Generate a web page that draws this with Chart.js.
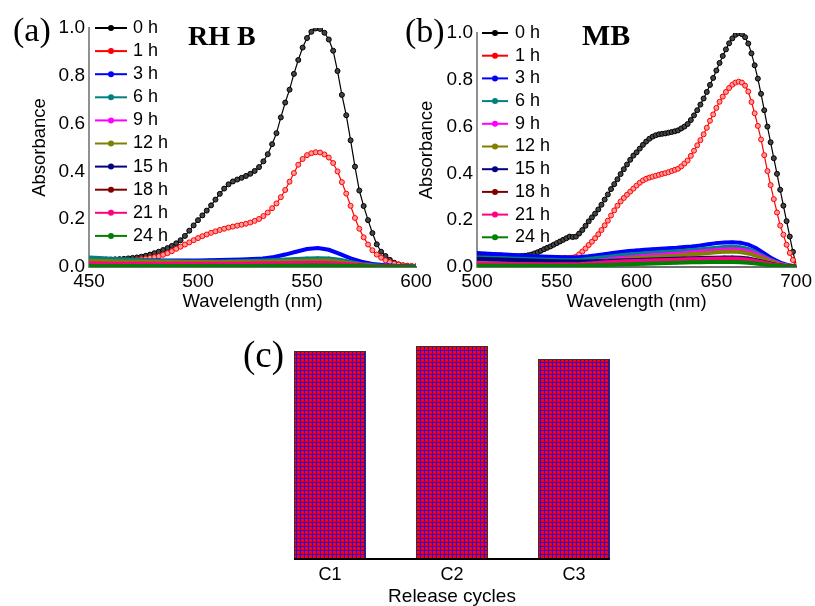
<!DOCTYPE html>
<html>
<head>
<meta charset="utf-8">
<script src="https://cdn.jsdelivr.net/npm/chart.js@4.4.1/dist/chart.umd.min.js"></script>
<style>
  body { margin: 0; background: #fff; }
  #fig { position: relative; width: 815px; height: 606px; overflow: hidden; background: #fff; }
  canvas { position: absolute; }
  .lbl { position: absolute; font-family: "Liberation Serif", "Times New Roman", serif; color: #000; white-space: nowrap; }
</style>
</head>
<body>
<div id="fig">
  <canvas id="ca" width="445" height="320" style="left:0;top:0;width:445px;height:320px"></canvas>
  <canvas id="cb" width="415" height="320" style="left:400px;top:0;width:415px;height:320px"></canvas>
  <canvas id="cc" width="420" height="276" style="left:240px;top:330px;width:420px;height:276px"></canvas>
  <div class="lbl" style="left:13px;top:13px;font-size:34px;line-height:34px">(a)</div>
  <div class="lbl" style="left:405px;top:14px;font-size:34px;line-height:34px">(b)</div>
  <div class="lbl" style="left:243px;top:336px;font-size:37px;line-height:37px">(c)</div>
  <div class="lbl" style="left:188px;top:22px;font-size:28px;line-height:28px;font-weight:bold">RH B</div>
  <div class="lbl" style="left:582px;top:20px;font-size:30px;line-height:30px;font-weight:bold">MB</div>
</div>
<script>
// Series labels and colours (same for both spectra panels)
const HOURS  = ['0 h', '1 h', '3 h', '6 h', '9 h', '12 h', '15 h', '18 h', '21 h', '24 h'];
const COLORS = ['#000000', '#ff0000', '#0000ff', '#008080', '#ff00ff',
                '#808000', '#000080', '#800000', '#ff0080', '#008000'];

// ---- Panel (a): RH B, wavelength grids ----
const WL_A2 = [450,452,454,456,458,460,462,464,466,468,
               470,472,474,476,478,480,482,484,486,488,
               490,492,494,496,498,500,502,504,506,508,
               510,512,514,516,518,520,522,524,526,528,
               530,532,534,536,538,540,542,544,546,548,
               550,552,554,556,558,560,562,564,566,568,
               570,572,574,576,578,580,582,584,586,588,
               590,592,594,596,598,600];
const WL_A5 = [450,455,460,465,470,475,480,485,490,495,500,505,510,515,520,
               525,530,535,540,545,550,555,560,565,570,575,580,585,590,595,600];

const A_0H = [.030,.030,.030,.030,.031,.031,.032,.033,.034,.036,
              .038,.040,.043,.047,.052,.058,.064,.071,.079,.088,
              .099,.112,.130,.152,.174,.196,.216,.236,.258,.282,
              .306,.328,.346,.358,.366,.373,.381,.390,.402,.418,
              .442,.472,.514,.560,.626,.688,.742,.808,.866,.918,
              .958,.984,.998,.996,.980,.952,.905,.820,.720,.635,
              .530,.420,.320,.255,.196,.142,.095,.064,.046,.030,
              .018,.011,.007,.005,.003,.002];
const A_1H = [.020,.020,.020,.020,.021,.021,.022,.023,.024,.025,
              .027,.029,.032,.035,.038,.041,.045,.051,.058,.066,
              .076,.085,.094,.103,.112,.121,.129,.136,.143,.149,
              .155,.160,.165,.169,.173,.177,.181,.186,.193,.201,
              .213,.228,.246,.266,.292,.322,.357,.393,.428,.452,
              .468,.476,.480,.479,.471,.458,.435,.400,.355,.307,
              .256,.205,.160,.124,.094,.070,.052,.039,.028,.020,
              .014,.010,.007,.005,.004,.003];
const A_3H  = [.035,.033,.031,.030,.029,.028,.027,.027,.027,.027,.027,.028,.029,.030,.031,.033,
               .036,.042,.052,.064,.075,.079,.072,.055,.036,.022,.013,.008,.005,.003,.002];
const A_6H  = [.040,.038,.035,.032,.030,.028,.026,.025,.024,.023,.023,.023,.023,.024,.025,.026,
               .027,.029,.031,.034,.036,.037,.036,.030,.021,.013,.008,.005,.003,.002,.001];
const A_9H  = [.013,.013,.012,.012,.012,.012,.012,.012,.012,.012,.012,.012,.012,.012,.013,.013,
               .014,.015,.016,.018,.020,.022,.023,.020,.014,.009,.005,.003,.002,.001,.001];
const A_12H = [.026,.025,.024,.023,.022,.022,.021,.021,.021,.021,.021,.021,.021,.021,.021,.022,
               .022,.023,.024,.025,.026,.027,.027,.022,.015,.009,.005,.003,.002,.001,.001];
const A_15H = [.008,.008,.008,.008,.008,.008,.008,.008,.008,.008,.008,.008,.008,.008,.008,.009,
               .009,.010,.010,.011,.012,.012,.012,.010,.007,.005,.003,.002,.001,.001,.000];
const A_18H = [.010,.010,.010,.010,.010,.010,.010,.010,.010,.010,.010,.010,.010,.010,.010,.011,
               .011,.012,.012,.013,.014,.014,.013,.011,.008,.005,.003,.002,.001,.001,.000];
const A_21H = [.015,.015,.014,.014,.014,.014,.014,.014,.014,.014,.014,.014,.014,.014,.014,.015,
               .015,.016,.016,.017,.018,.018,.017,.014,.010,.006,.004,.002,.001,.001,.000];
const A_24H = [.004,.004,.004,.004,.004,.004,.004,.004,.004,.004,.004,.004,.004,.004,.004,.004,
               .004,.005,.005,.005,.006,.006,.006,.005,.004,.003,.002,.001,.001,.000,.000];

// ---- Panel (b): MB, wavelength grids ----
const WL_B2 = [500,502,504,506,508,510,512,514,516,518,
               520,522,524,526,528,530,532,534,536,538,
               540,542,544,546,548,550,552,554,556,558,
               560,562,564,566,568,570,572,574,576,578,
               580,582,584,586,588,590,592,594,596,598,
               600,602,604,606,608,610,612,614,616,618,
               620,622,624,626,628,630,632,634,636,638,
               640,642,644,646,648,650,652,654,656,658,
               660,662,664,666,668,670,672,674,676,678,
               680,682,684,686,688,690,692,694,696,698,
               700];
const WL_B5 = [500,505,510,515,520,525,530,535,540,545,550,555,560,565,570,575,580,585,590,595,
               600,605,610,615,620,625,630,635,640,645,650,655,660,665,670,675,680,685,690,695,700];

const B_0H = [.045,.045,.045,.045,.045,.045,.045,.045,.045,.045,
              .045,.045,.046,.046,.047,.048,.050,.053,.058,.063,
              .069,.076,.082,.088,.095,.102,.109,.116,.123,.130,
              .128,.130,.143,.158,.176,.195,.212,.228,.246,.266,
              .288,.310,.333,.354,.375,.397,.418,.438,.458,.476,
              .490,.506,.522,.536,.548,.557,.563,.567,.569,.571,
              .574,.577,.580,.584,.592,.600,.611,.628,.648,.670,
              .694,.720,.748,.778,.808,.840,.872,.902,.930,.956,
              .977,.992,.999,.995,.982,.955,.913,.862,.805,.740,
              .670,.600,.533,.465,.398,.330,.262,.196,.130,.065,
              .008];
const B_1H = [.036,.036,.036,.036,.036,.036,.036,.036,.036,.036,
              .036,.036,.036,.036,.036,.036,.036,.036,.036,.036,
              .036,.036,.036,.036,.036,.036,.037,.037,.038,.039,
              .040,.044,.054,.066,.079,.094,.108,.123,.140,.158,
              .178,.198,.220,.242,.262,.280,.295,.309,.322,.335,
              .348,.360,.370,.377,.382,.386,.390,.394,.398,.401,
              .405,.410,.415,.420,.430,.442,.455,.475,.497,.520,
              .542,.567,.595,.625,.652,.680,.706,.728,.748,.765,
              .779,.788,.792,.788,.775,.750,.705,.657,.603,.545,
              .478,.410,.350,.290,.233,.177,.138,.095,.060,.030,
              .008];
const B_3H  = [.060,.058,.056,.054,.052,.050,.048,.046,.045,.044,.043,.042,.041,.043,.046,.050,.055,.060,.064,.068,
               .071,.074,.076,.078,.080,.082,.085,.088,.092,.097,.102,.105,.106,.104,.096,.080,.058,.036,.019,.008,.002];
const B_6H  = [.040,.039,.038,.037,.036,.035,.034,.033,.032,.031,.030,.029,.029,.031,.034,.038,.042,.046,.050,.053,
               .056,.059,.061,.063,.065,.067,.070,.073,.076,.079,.082,.085,.086,.084,.077,.063,.045,.028,.014,.006,.002];
const B_9H  = [.020,.020,.019,.019,.018,.018,.017,.017,.017,.017,.017,.017,.017,.019,.022,.026,.030,.034,.038,.041,
               .044,.047,.050,.052,.055,.057,.060,.063,.066,.069,.072,.075,.076,.074,.068,.056,.040,.025,.013,.005,.002];
const B_12H = [.015,.015,.015,.014,.014,.014,.014,.013,.013,.013,.013,.013,.013,.015,.018,.021,.025,.028,.031,.034,
               .037,.040,.042,.044,.046,.048,.051,.054,.057,.060,.063,.065,.066,.064,.058,.048,.034,.021,.011,.004,.001];
const B_15H = [.035,.034,.033,.032,.031,.030,.029,.028,.027,.026,.025,.024,.023,.023,.024,.025,.026,.027,.028,.029,
               .030,.031,.032,.033,.034,.035,.036,.037,.038,.039,.040,.041,.041,.040,.036,.029,.021,.013,.007,.003,.001];
const B_18H = [.010,.010,.010,.010,.010,.010,.010,.010,.010,.010,.010,.010,.010,.011,.013,.015,.017,.019,.021,.023,
               .025,.026,.027,.028,.029,.030,.031,.032,.033,.034,.035,.036,.036,.035,.032,.026,.019,.012,.006,.003,.001];
const B_21H = [.012,.012,.012,.012,.012,.012,.012,.012,.012,.012,.012,.012,.012,.013,.015,.017,.019,.021,.023,.025,
               .026,.027,.028,.029,.030,.031,.032,.033,.034,.034,.035,.035,.035,.034,.031,.025,.018,.011,.006,.002,.001];
const B_24H = [.005,.005,.005,.005,.005,.005,.005,.005,.005,.005,.005,.005,.005,.006,.007,.008,.009,.010,.011,.012,
               .013,.014,.015,.016,.017,.018,.019,.020,.020,.021,.021,.021,.021,.020,.018,.015,.011,.007,.004,.002,.001];

// ---- Panel (c): release cycles (bar heights, arbitrary units, y axis hidden) ----
const CYCLES  = ['C1', 'C2', 'C3'];
const RELEASE = [95.0, 97.3, 91.3];

Chart.defaults.font.family = '"Liberation Sans", Arial, sans-serif';
Chart.defaults.color = '#000';

// pair a wavelength grid with absorbance values
function pts(wl, vals) {
  return wl.map((w, i) => ({ x: w, y: vals[i] }));
}

// legend drawn inside the plot: short line with a dot, then the label
const lineLegend = {
  id: 'lineLegend',
  afterDraw(chart, args, o) {
    const ctx = chart.ctx, ca = chart.chartArea;
    ctx.save();
    ctx.font = o.font;
    ctx.textBaseline = 'middle';
    ctx.textAlign = 'left';
    chart.data.datasets.forEach((ds, i) => {
      const y = ca.top + o.top + i * o.step;
      const x0 = ca.left + o.left, x1 = x0 + o.len;
      ctx.strokeStyle = ds.borderColor;
      ctx.lineWidth = 2;
      ctx.beginPath(); ctx.moveTo(x0, y); ctx.lineTo(x1, y); ctx.stroke();
      ctx.fillStyle = ds.borderColor;
      ctx.beginPath(); ctx.arc((x0 + x1) / 2, y, 3, 0, Math.PI * 2); ctx.fill();
      ctx.fillStyle = '#000';
      ctx.fillText(ds.label, x1 + o.gap, y);
    });
    ctx.restore();
  }
};

function spectraSets(main, low, wlFine, wlCoarse) {
  return HOURS.map((h, i) => {
    const big = i < 2;
    return {
      label: h,
      data: big ? pts(wlFine, main[i]) : pts(wlCoarse, low[i - 2]),
      borderColor: COLORS[i],
      borderWidth: big ? 1.2 : 4,
      pointRadius: big ? 2.5 : 1.8,
      pointBorderWidth: big ? 1 : 0,
      pointBorderColor: COLORS[i],
      pointBackgroundColor: i === 0 ? '#444' : (i === 1 ? '#ff9a9a' : COLORS[i]),
      tension: 0,
      order: 10 - i   // later series drawn on top
    };
  });
}

function spectraChart(id, sets, xmin, xmax, cfg) {
  return new Chart(document.getElementById(id), {
    type: 'line',
    data: { datasets: sets },
    options: {
      responsive: false,
      animation: false,
      layout: { padding: { left: 0, top: cfg.padTop, right: cfg.padRight, bottom: 0 } },
      plugins: {
        legend: { display: false },
        tooltip: { enabled: false },
        lineLegend: cfg.legend
      },
      scales: {
        x: {
          type: 'linear', min: xmin, max: xmax,
          grid: { display: false, drawTicks: false },
          border: { display: true, color: '#707070', width: 2 },
          ticks: { stepSize: 50, padding: 3, font: { size: 19 } },
          title: { display: true, text: 'Wavelength (nm)', font: { size: 18.5 }, padding: { top: 0, bottom: 7 } },
          afterFit: s => { s.height = cfg.xh; }
        },
        y: {
          min: 0, max: 1,
          grid: { display: false, drawTicks: false },
          border: { display: true, color: '#909090', width: 2 },
          ticks: { stepSize: 0.2, padding: 4, font: { size: 19 }, callback: v => v.toFixed(1) },
          title: { display: true, text: 'Absorbance', font: { size: 18.5 }, padding: { top: cfg.yTitlePad, bottom: 0 } },
          afterFit: s => { s.width = cfg.yw; }
        }
      }
    },
    plugins: [lineLegend]
  });
}

spectraChart('ca',
  spectraSets([A_0H, A_1H], [A_3H, A_6H, A_9H, A_12H, A_15H, A_18H, A_21H, A_24H], WL_A2, WL_A5),
  450, 600,
  { padTop: 28, padRight: 29, xh: 53, yw: 89, yTitlePad: 29,
    legend: { left: 6, len: 32, gap: 6, top: 0, step: 23.1, font: '18px "Liberation Sans", Arial, sans-serif' } });

spectraChart('cb',
  spectraSets([B_0H, B_1H], [B_3H, B_6H, B_9H, B_12H, B_15H, B_18H, B_21H, B_24H], WL_B2, WL_B5),
  500, 700,
  { padTop: 33, padRight: 17, xh: 53, yw: 77, yTitlePad: 16,
    legend: { left: 5, len: 26, gap: 7, top: 0, step: 22.7, font: '18px "Liberation Sans", Arial, sans-serif' } });

// red/blue checked fill for the bars (fine 4 px grid)
function checkPattern() {
  const t = document.createElement('canvas');
  t.width = 4; t.height = 4;
  const g = t.getContext('2d');
  g.fillStyle = '#ff0000';
  g.fillRect(0, 0, 4, 4);
  g.fillStyle = '#3300dd';
  g.fillRect(0, 0, 4, 1);
  g.fillRect(0, 0, 1, 4);
  return g.createPattern(t, 'repeat');
}

// baseline only under the bars (no y axis in this panel)
const barBase = {
  id: 'barBase',
  afterDatasetsDraw(chart) {
    const bars = chart.getDatasetMeta(0).data;
    if (!bars.length) return;
    const a = bars[0], b = bars[bars.length - 1];
    const ctx = chart.ctx;
    ctx.save();
    ctx.strokeStyle = '#000';
    ctx.lineWidth = 2;
    ctx.beginPath();
    ctx.moveTo(a.x - a.width / 2, chart.chartArea.bottom);
    ctx.lineTo(b.x + b.width / 2, chart.chartArea.bottom);
    ctx.stroke();
    ctx.restore();
  }
};

new Chart(document.getElementById('cc'), {
  type: 'bar',
  data: {
    labels: CYCLES,
    datasets: [{
      data: RELEASE,
      backgroundColor: checkPattern(),
      borderColor: '#333',
      borderWidth: 1,
      categoryPercentage: 1,
      barPercentage: 0.59
    }]
  },
  options: {
    responsive: false,
    animation: false,
    layout: { padding: { left: 29, right: 25, top: 10, bottom: 0 } },
    plugins: { legend: { display: false }, tooltip: { enabled: false } },
    scales: {
      x: {
        grid: { display: false, drawTicks: false },
        border: { display: false },
        ticks: { padding: 5, font: { size: 18 } },
        title: { display: true, text: 'Release cycles', font: { size: 19, lineHeight: 1 }, padding: 0 },
        afterFit: s => { s.height = 47; }
      },
      y: { display: false, min: 0, max: 100 }
    }
  },
  plugins: [barBase]
});
</script>
</body>
</html>
